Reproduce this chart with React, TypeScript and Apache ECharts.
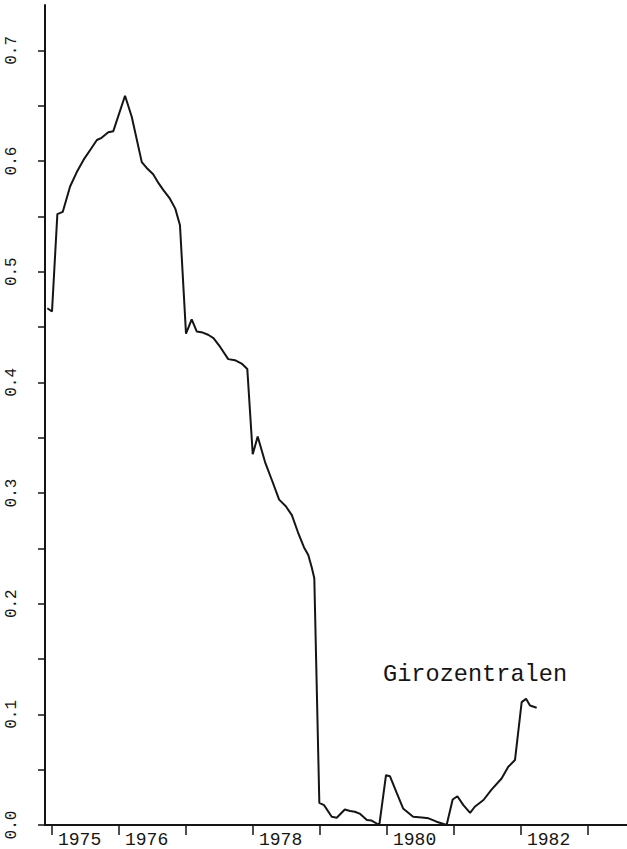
import React, { useEffect, useRef } from "react";
import * as echarts from "echarts";

// Dates as fractional years, values as shares
const dates: number[] = [
  1974.93, 1975.0, 1975.08, 1975.16, 1975.27, 1975.37, 1975.47, 1975.57, 1975.67, 1975.74,
  1975.84, 1975.915, 1976.09, 1976.19, 1976.34, 1976.41, 1976.51, 1976.59, 1976.66, 1976.76,
  1976.84, 1976.91, 1977.0, 1977.085, 1977.16, 1977.25, 1977.33, 1977.41, 1977.51, 1977.63,
  1977.73, 1977.83, 1977.915, 1977.996, 1978.07, 1978.18, 1978.28, 1978.39, 1978.49, 1978.58,
  1978.68, 1978.76, 1978.825, 1978.876, 1978.915, 1978.99, 1979.06, 1979.175, 1979.25, 1979.37,
  1979.45, 1979.52, 1979.6, 1979.7, 1979.77, 1979.885, 1979.985, 1980.045, 1980.145, 1980.24,
  1980.39, 1980.52, 1980.62, 1980.74, 1980.89, 1980.98, 1981.05, 1981.14, 1981.24, 1981.31,
  1981.44, 1981.56, 1981.71, 1981.81, 1981.91, 1982.01, 1982.075, 1982.134, 1982.234,
];
const values: number[] = [
  0.467, 0.464, 0.552, 0.554, 0.577, 0.59, 0.601, 0.61, 0.619, 0.621,
  0.626, 0.627, 0.659, 0.64, 0.599, 0.594, 0.588, 0.58, 0.574, 0.566,
  0.557, 0.542, 0.444, 0.457, 0.446, 0.445, 0.443, 0.44, 0.432, 0.421,
  0.42, 0.417, 0.412, 0.335, 0.351, 0.328, 0.312, 0.294, 0.288, 0.28,
  0.263, 0.251, 0.244, 0.233, 0.223, 0.02, 0.018, 0.0075, 0.0066, 0.014,
  0.0126, 0.012, 0.01, 0.0045, 0.004, 0.0, 0.045, 0.044, 0.029, 0.015,
  0.0075, 0.0068, 0.006, 0.003, 0.0, 0.023, 0.026, 0.018, 0.011, 0.0165,
  0.0226, 0.032, 0.042, 0.0526, 0.0587, 0.111, 0.114, 0.108, 0.106,
];
const yearTicks: number[] = [1975, 1976, 1977, 1978, 1979, 1980, 1981, 1982, 1983];
const yearLabels: number[] = [1975, 1976, 1978, 1980, 1982];
const yTicks: number[] = [0, 0.05, 0.1, 0.15, 0.2, 0.25, 0.3, 0.35, 0.4, 0.45, 0.5, 0.55, 0.6, 0.65, 0.7];
const yLabels: number[] = [0, 0.1, 0.2, 0.3, 0.4, 0.5, 0.6, 0.7];
const seriesName = "Girozentralen";

const INK = "#151515";
const MONO = "'Liberation Mono', 'DejaVu Sans Mono', monospace";

export default function App() {
  const ref = useRef<HTMLDivElement>(null);
  useEffect(() => {
    if (!ref.current) return;
    const chart = echarts.init(ref.current, null, { renderer: "svg" });
    const data = dates.map((d, i) => [d, values[i]]);
    chart.setOption({
      animation: false,
      backgroundColor: "#ffffff",
      grid: { left: 45, right: 0, top: 5, bottom: 24, containLabel: false },
      xAxis: {
        type: "value",
        min: 1974.8955,
        max: 1983.582,
        splitLine: { show: false },
        axisLine: { show: true, onZero: false, lineStyle: { color: INK, width: 2 } },
        axisTick: { show: true, customValues: yearTicks, length: 10, lineStyle: { color: INK, width: 1.5 } },
        axisLabel: {
          show: true,
          customValues: yearLabels,
          formatter: (v: number) => String(Math.round(v)),
          align: "left",
          padding: [0, 0, 0, 6],
          margin: 6,
          color: INK,
          fontFamily: MONO,
          fontSize: 18,
        },
      },
      yAxis: {
        type: "value",
        min: 0,
        max: 0.741,
        splitLine: { show: false },
        axisLine: { show: true, lineStyle: { color: INK, width: 2 } },
        axisTick: { show: true, customValues: yTicks, length: 7, lineStyle: { color: INK, width: 1.5 } },
        axisLabel: {
          show: true,
          customValues: yLabels,
          formatter: (v: number) => v.toFixed(1),
          rotate: 90,
          margin: 25,
          color: INK,
          fontFamily: MONO,
          fontSize: 16,
        },
      },
      series: [
        {
          type: "line",
          name: seriesName,
          data,
          showSymbol: false,
          smooth: false,
          lineStyle: { color: INK, width: 2 },
        },
      ],
      graphic: [
        {
          type: "text",
          left: 383,
          top: 662,
          style: { text: seriesName, fill: INK, font: `23.6px ${MONO}` },
        },
      ],
    });
    return () => chart.dispose();
  }, []);
  return (
    <div
      ref={ref}
      style={{ position: "fixed", left: 0, top: 0, width: 627, height: 849, background: "#fff" }}
    />
  );
}
